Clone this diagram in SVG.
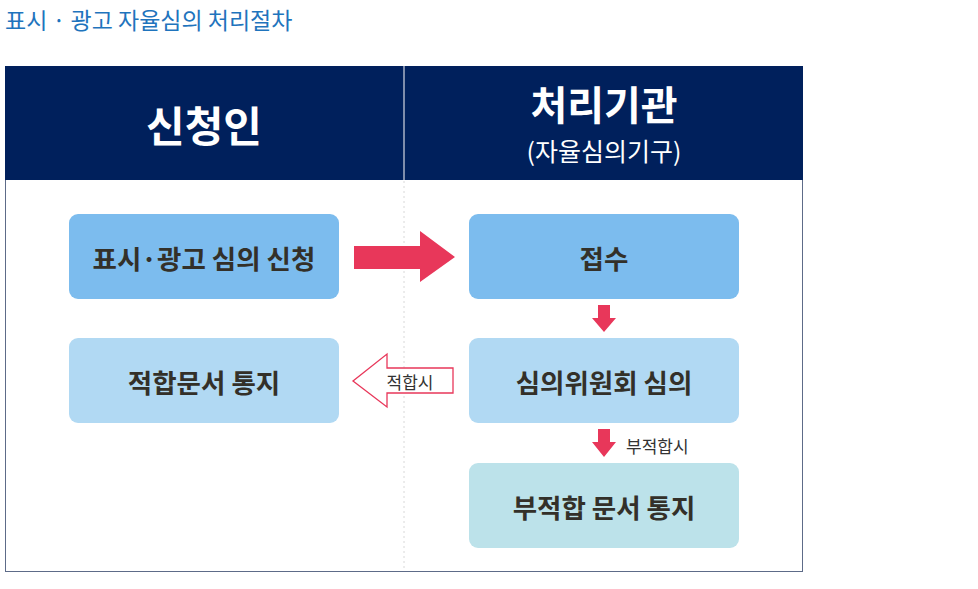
<svg xmlns="http://www.w3.org/2000/svg" width="978" height="589" viewBox="0 0 978 589">
<style>
.t{font-family:"Noto Sans CJK KR","Noto Sans",sans-serif}
.bt{font-family:"Noto Sans CJK KR","Noto Sans",sans-serif;font-size:26.5px;font-weight:700;fill:#333029;text-anchor:middle;dominant-baseline:central}
.lab{font-family:"Noto Sans CJK KR","Noto Sans",sans-serif;font-size:17px;fill:#333;dominant-baseline:central}
</style>
<rect width="978" height="589" fill="#fff"/>
<text class="t" x="5" y="19" font-size="23" font-weight="400" fill="#1f74bd" dominant-baseline="central">표시 · 광고 자율심의 처리절차</text>
<g id="frame">
<rect x="5.5" y="66.5" width="797" height="505" fill="#fff" stroke="#5d6b88" stroke-width="1"/>
<rect x="5" y="66" width="798" height="114" fill="#00205c"/>
<line x1="404" y1="66" x2="404" y2="180" stroke="#a8b2c6" stroke-width="1.5"/>
<line x1="404" y1="181" x2="404" y2="571" stroke="#d8d8d8" stroke-width="1" stroke-dasharray="2,3"/>
</g>
<g id="header-applicant"><text class="t" x="204" y="123" font-size="42" font-weight="700" fill="#fff" text-anchor="middle" dominant-baseline="central">신청인</text></g>
<g id="header-agency">
<text class="t" x="604" y="103" font-size="40" font-weight="700" fill="#fff" text-anchor="middle" dominant-baseline="central">처리기관</text>
<text class="t" x="604" y="150" font-size="25" fill="#fff" text-anchor="middle" dominant-baseline="central">(자율심의기구)</text>
</g>
<g id="n1"><rect x="69" y="214" width="270" height="85" rx="9" fill="#7cbcee"/><text class="bt" x="204" y="257">표시·광고 심의 신청</text></g>
<g id="n2"><rect x="69" y="338" width="270" height="85" rx="9" fill="#b1d9f3"/><text class="bt" x="204" y="381">적합문서 통지</text></g>
<g id="n3"><rect x="469" y="214" width="270" height="85" rx="9" fill="#7cbcee"/><text class="bt" x="604" y="257">접수</text></g>
<g id="n4"><rect x="469" y="338" width="270" height="85" rx="9" fill="#b1d9f3"/><text class="bt" x="604" y="381">심의위원회 심의</text></g>
<g id="n5"><rect x="469" y="463" width="270" height="85" rx="9" fill="#bce2ea"/><text class="bt" x="604" y="506">부적합 문서 통지</text></g>
<g id="connectors">
<polygon points="354,246 420,246 420,231 455,257 420,282 420,269 354,269" fill="#e8375a"/>
<polygon points="598,305 610,305 610,318 616,318 604,332 592,318 598,318" fill="#e8375a"/>
<polygon points="598,429 610,429 610,442 616,442 604,457 592,442 598,442" fill="#e8375a"/>
<polygon points="453,368 387,368 387,354 353,381 387,407 387,393 453,393 Z" fill="#fff" stroke="#e8375a" stroke-width="1.3"/>
<text class="lab" x="410" y="381" text-anchor="middle">적합시</text>
<text class="lab" x="626" y="445">부적합시</text>
</g>
</svg>
